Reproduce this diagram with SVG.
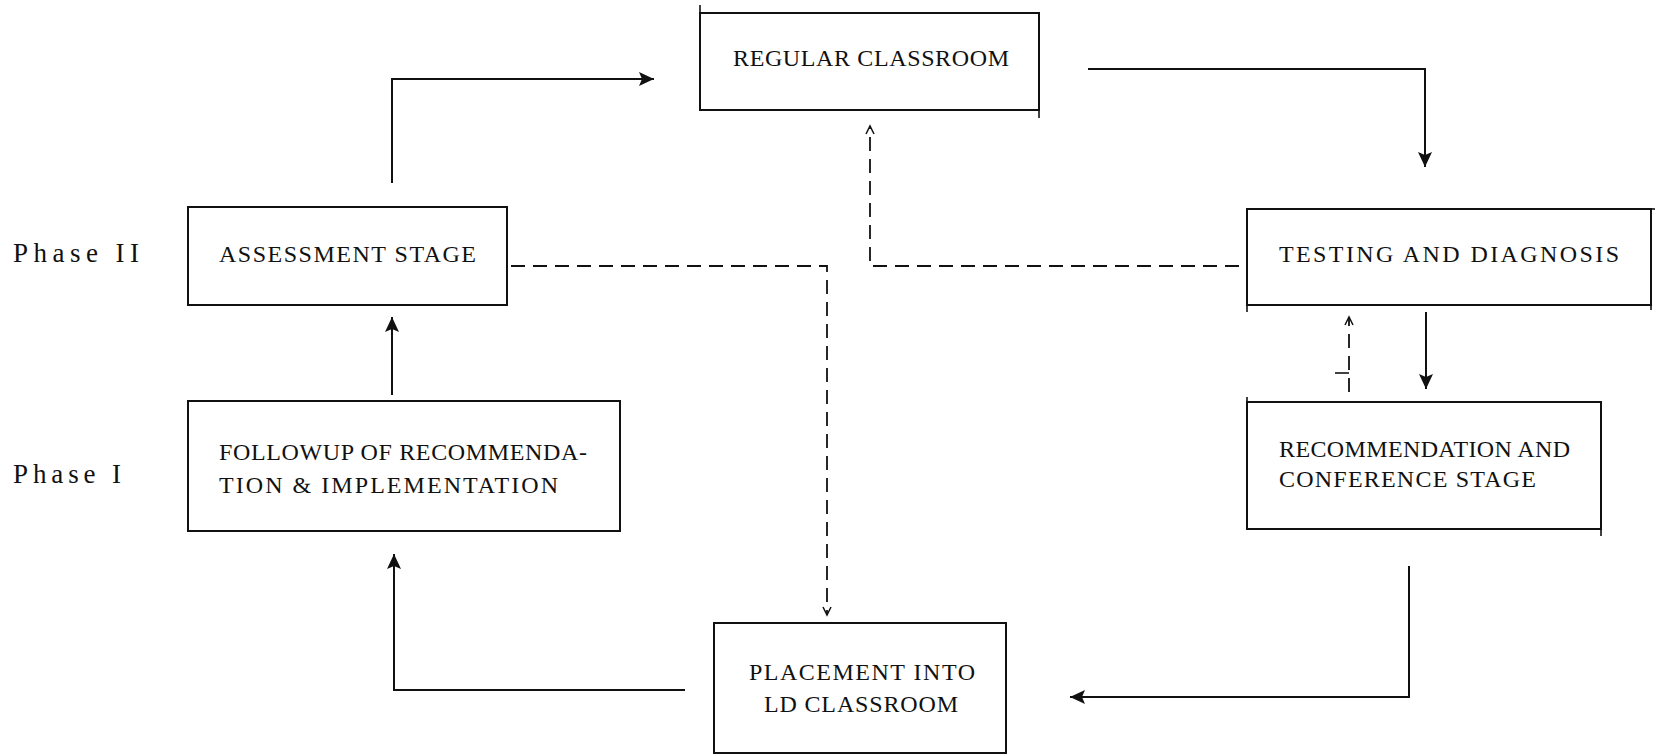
<svg xmlns="http://www.w3.org/2000/svg" width="1656" height="755" viewBox="0 0 1656 755">
<style>
  .box{fill:none;stroke:#111;stroke-width:2}
  .ext{stroke:#111;stroke-width:1.6}
  .t{font-family:"Liberation Serif","Times New Roman",serif;font-size:24px;fill:#111}
  .p{font-family:"Liberation Serif","Times New Roman",serif;font-size:27px;fill:#111}
  .c{stroke:#111;stroke-width:2;fill:none}
  .d{stroke:#111;stroke-width:1.8;fill:none;stroke-dasharray:14 8}
</style>
<defs>
  <marker id="solid" markerUnits="userSpaceOnUse" markerWidth="18" markerHeight="16" refX="15" refY="7" orient="auto">
    <path d="M0,0 L15,7 L0,14 L3,7 z" fill="#111"/>
  </marker>
  <marker id="open" markerUnits="userSpaceOnUse" markerWidth="12" markerHeight="12" refX="9" refY="5" orient="auto">
    <path d="M1,1 L9,5 L1,9" fill="none" stroke="#111" stroke-width="1.5"/>
  </marker>
</defs>
<rect width="1656" height="755" fill="#fff"/>

<text class="p" x="13" y="262" textLength="126">Phase II</text>
<text class="p" x="13" y="483" textLength="108">Phase I</text>

<g id="regular-classroom">
  <rect class="box" x="700" y="13" width="339" height="97"/>
  <line class="ext" x1="700" y1="5" x2="700" y2="13"/>
  <line class="ext" x1="1039" y1="110" x2="1039" y2="118"/>
  <text class="t" x="733" y="66" textLength="276">REGULAR CLASSROOM</text>
</g>

<g id="assessment-stage">
  <rect class="box" x="188" y="207" width="319" height="98"/>
  <text class="t" x="219" y="262" textLength="257">ASSESSMENT STAGE</text>
</g>

<g id="testing-diagnosis">
  <rect class="box" x="1247" y="209" width="404" height="96"/>
  <line class="ext" x1="1651" y1="209" x2="1655" y2="209"/>
  <line class="ext" x1="1247" y1="305" x2="1247" y2="312"/>
  <line class="ext" x1="1651" y1="305" x2="1651" y2="310"/>
  <text class="t" x="1279" y="262" textLength="340">TESTING AND DIAGNOSIS</text>
</g>

<g id="followup">
  <rect class="box" x="188" y="401" width="432" height="130"/>
  <text class="t" x="219" y="460" textLength="368">FOLLOWUP OF RECOMMENDA-</text>
  <text class="t" x="219" y="493" textLength="339">TION &amp; IMPLEMENTATION</text>
</g>

<g id="recommendation-conference">
  <rect class="box" x="1247" y="402" width="354" height="127"/>
  <line class="ext" x1="1247" y1="397" x2="1247" y2="402"/>
  <line class="ext" x1="1601" y1="529" x2="1601" y2="536"/>
  <text class="t" x="1279" y="457" textLength="291">RECOMMENDATION AND</text>
  <text class="t" x="1279" y="487" textLength="257">CONFERENCE STAGE</text>
</g>

<g id="placement-ld">
  <rect class="box" x="714" y="623" width="292" height="130"/>
  <text class="t" x="749" y="680" textLength="226">PLACEMENT INTO</text>
  <text class="t" x="764" y="712" textLength="194">LD CLASSROOM</text>
</g>

<g id="connectors">
  <path class="c" d="M392,183 V79 H654" marker-end="url(#solid)"/>
  <path class="c" d="M1088,69 H1425 V167" marker-end="url(#solid)"/>
  <path class="c" d="M1426,312 V389" marker-end="url(#solid)"/>
  <path class="c" d="M1409,566 V697 H1070" marker-end="url(#solid)"/>
  <path class="c" d="M685,690 H394 V554" marker-end="url(#solid)"/>
  <path class="c" d="M392,395 V317" marker-end="url(#solid)"/>
  <path class="d" d="M511,266 H827 V615" marker-end="url(#open)"/>
  <path class="d" d="M1239,266 H870 V126" marker-end="url(#open)"/>
  <path class="d" d="M1349,392 V317" marker-end="url(#open)"/>
  <line class="ext" x1="1335" y1="373" x2="1349" y2="373"/>
</g>
</svg>
